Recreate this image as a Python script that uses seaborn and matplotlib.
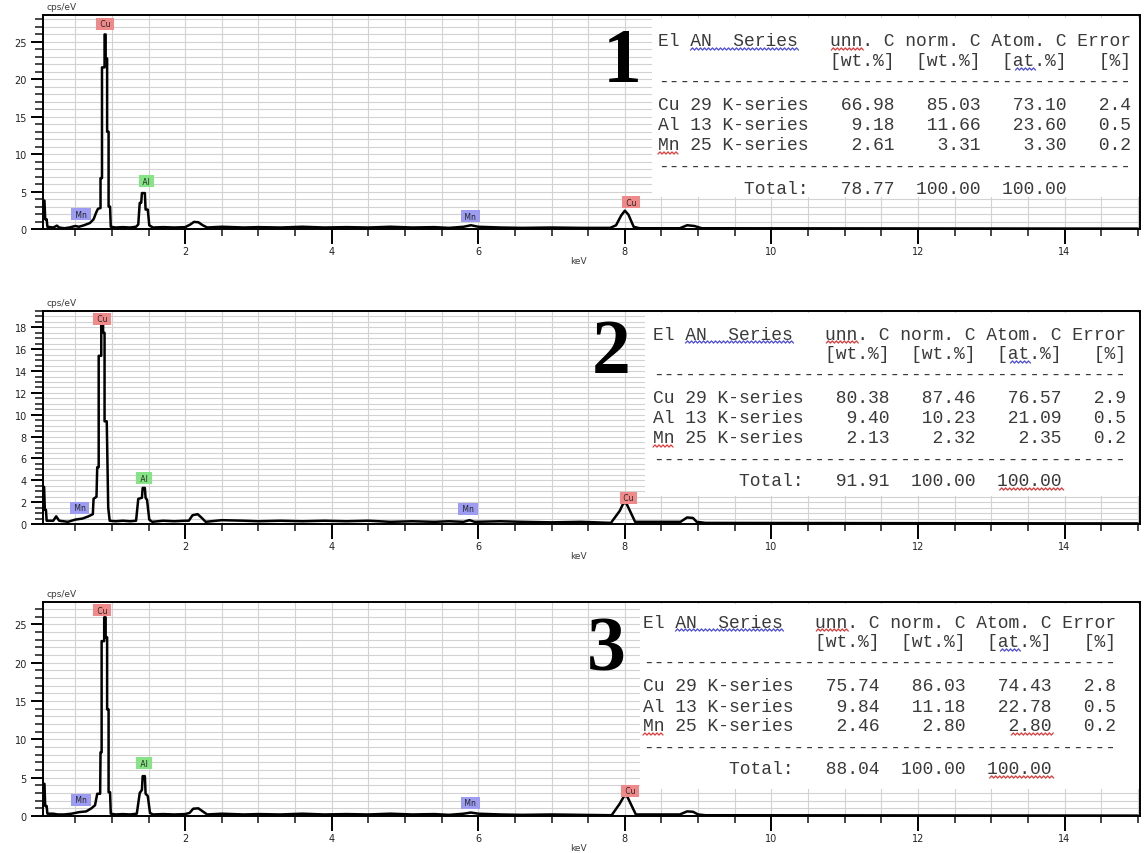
"""EDS spectra of three Cu-Al-Mn samples with their quantification tables."""

import numpy as np
import matplotlib.pyplot as plt
import pandas as pd
import seaborn as sns
from matplotlib.patches import Rectangle
from matplotlib.ticker import MultipleLocator

sns.set_theme(style="white")
plt.rcParams["font.family"] = ["DejaVu Sans"]

W, H = 1145, 854

# ---- spectra (keV, cps/eV) ----
E1 = [0.06, 0.08, 0.09, 0.11, 0.12, 0.2, 0.25, 0.28, 0.35, 0.42, 0.5, 0.55, 0.62, 0.7, 0.75, 0.79, 0.81,
      0.845, 0.845, 0.865, 0.865, 0.9, 0.9, 0.915, 0.915, 0.935, 0.935, 0.955, 0.955, 0.975, 0.985,
      1.05, 1.15, 1.25, 1.33, 1.36, 1.38, 1.40, 1.41, 1.45, 1.46, 1.49, 1.51, 1.56, 1.7, 1.85, 2.0,
      2.07, 2.12, 2.18, 2.24, 2.3, 2.5, 2.8, 3.0, 3.3, 3.6, 3.9, 4.2, 4.5, 4.8, 5.1, 5.4, 5.6, 5.8,
      5.9, 6.0, 6.3, 6.6, 7.0, 7.4, 7.8, 7.88, 7.95, 8.0, 8.05, 8.12, 8.2, 8.75, 8.85, 8.95, 9.05, 15.0]
C1 = [3.8, 3.8, 1.3, 1.3, 0.3, 0.2, 0.45, 0.2, 0.1, 0.2, 0.4, 0.3, 0.5, 0.8, 1.3, 2.3, 2.7,
      2.8, 6.8, 6.8, 21.6, 21.6, 26.0, 26.0, 22.8, 22.8, 13.0, 13.0, 3.0, 3.0, 0.3,
      0.2, 0.25, 0.2, 0.3, 0.6, 3.5, 3.5, 4.8, 4.8, 2.6, 2.6, 0.5, 0.2, 0.25, 0.2, 0.25,
      0.6, 0.95, 0.9, 0.5, 0.2, 0.3, 0.2, 0.25, 0.2, 0.3, 0.2, 0.25, 0.2, 0.3, 0.2, 0.25, 0.15, 0.3,
      0.5, 0.3, 0.2, 0.15, 0.2, 0.15, 0.15, 0.5, 1.8, 2.45, 1.9, 0.3, 0.1, 0.1, 0.5, 0.4, 0.1, 0.05]

E2 = [0.06, 0.075, 0.085, 0.1, 0.11, 0.2, 0.24, 0.28, 0.4, 0.5, 0.6, 0.68, 0.74, 0.75, 0.79,
      0.8, 0.82, 0.82, 0.855, 0.855, 0.88, 0.88, 0.9, 0.9, 0.93, 0.95, 0.97,
      1.05, 1.15, 1.25, 1.33, 1.36, 1.41, 1.42, 1.45, 1.46, 1.48, 1.51, 1.55, 1.7, 1.85, 2.0,
      2.05, 2.1, 2.17, 2.22, 2.28, 2.5, 2.8, 3.0, 3.3, 3.6, 3.9, 4.2, 4.5, 4.8, 5.1, 5.4, 5.6, 5.8,
      5.88, 5.95, 6.3, 6.6, 7.0, 7.4, 7.81, 7.93, 7.98, 8.02, 8.07, 8.14, 8.76, 8.85, 8.93, 8.98, 9.1, 15.0]
C2 = [3.4, 3.4, 1.3, 1.3, 0.3, 0.3, 0.7, 0.3, 0.2, 0.4, 0.5, 0.7, 0.9, 2.3, 2.5,
      5.2, 5.2, 15.4, 15.4, 18.3, 18.3, 17.5, 17.5, 9.4, 9.4, 1.5, 0.3,
      0.25, 0.3, 0.25, 0.3, 2.3, 2.4, 3.3, 3.3, 2.4, 2.2, 0.4, 0.2, 0.3, 0.25, 0.3,
      0.3, 0.8, 0.9, 0.6, 0.2, 0.35, 0.3, 0.25, 0.3, 0.25, 0.3, 0.25, 0.3, 0.2, 0.25, 0.2, 0.25, 0.2,
      0.35, 0.2, 0.25, 0.2, 0.15, 0.2, 0.1, 1.2, 1.9, 1.9, 1.2, 0.2, 0.2, 0.6, 0.55, 0.2, 0.1, 0.05]

E3 = [0.06, 0.08, 0.09, 0.11, 0.12, 0.2, 0.26, 0.35, 0.45, 0.55, 0.65, 0.72, 0.77, 0.8, 0.84,
      0.845, 0.86, 0.86, 0.895, 0.895, 0.915, 0.915, 0.935, 0.935, 0.955, 0.955, 0.975, 0.985,
      1.05, 1.15, 1.25, 1.34, 1.38, 1.41, 1.42, 1.45, 1.46, 1.49, 1.52, 1.56, 1.7, 1.85, 2.0,
      2.06, 2.11, 2.18, 2.24, 2.3, 2.5, 2.8, 3.0, 3.3, 3.6, 3.9, 4.2, 4.5, 4.8, 5.1, 5.4, 5.6, 5.8,
      5.9, 6.0, 6.3, 6.6, 7.0, 7.4, 7.82, 7.93, 7.99, 8.03, 8.08, 8.15, 8.75, 8.85, 8.93, 9.0, 9.1, 15.0]
C3 = [4.2, 4.2, 1.3, 1.3, 0.3, 0.3, 0.2, 0.2, 0.3, 0.5, 0.6, 1.0, 1.4, 2.9, 2.9,
      8.3, 8.3, 22.8, 22.8, 25.9, 25.9, 23.3, 23.3, 13.9, 13.9, 3.1, 3.1, 0.3,
      0.2, 0.25, 0.2, 0.3, 3.0, 3.4, 5.2, 5.2, 2.9, 2.6, 0.4, 0.2, 0.25, 0.2, 0.25,
      0.4, 0.95, 1.0, 0.6, 0.2, 0.3, 0.2, 0.25, 0.2, 0.3, 0.2, 0.25, 0.2, 0.3, 0.2, 0.25, 0.15, 0.3,
      0.45, 0.3, 0.2, 0.15, 0.2, 0.15, 0.1, 1.6, 2.6, 2.6, 1.6, 0.2, 0.2, 0.6, 0.55, 0.2, 0.1, 0.05]

# ---- peak labels ----
PEAK_NAMES = ["Cu", "Al", "Mn", "Mn", "Cu"]
PEAK_X1 = [0.91, 1.47, 0.58, 5.89, 8.09]
PEAK_Y1 = [27.4, 6.4, 2.0, 1.7, 3.6]
PEAK_X2 = [0.87, 1.44, 0.56, 5.86, 8.05]
PEAK_Y2 = [18.8, 4.2, 1.5, 1.4, 2.4]
PEAK_X3 = [0.87, 1.44, 0.58, 5.89, 8.07]
PEAK_Y3 = [26.8, 6.9, 2.1, 1.7, 3.3]

# ---- quantification tables ----
ELEMENTS = ["Cu", "Al", "Mn"]
ATOMIC_NO = [29, 13, 25]
UNN1 = [66.98, 9.18, 2.61]
NORM1 = [85.03, 11.66, 3.31]
ATOM1 = [73.10, 23.60, 3.30]
ERR1 = [2.4, 0.5, 0.2]
UNN2 = [80.38, 9.40, 2.13]
NORM2 = [87.46, 10.23, 2.32]
ATOM2 = [76.57, 21.09, 2.35]
ERR2 = [2.9, 0.5, 0.2]
UNN3 = [75.74, 9.84, 2.46]
NORM3 = [86.03, 11.18, 2.80]
ATOM3 = [74.43, 22.78, 2.80]
ERR3 = [2.8, 0.5, 0.2]
TOTALS = [78.77, 91.91, 88.04]
PANEL_NUMBERS = ["1", "2", "3"]

LABEL_COLORS = {"Cu": "#f08a8a", "Al": "#86e486", "Mn": "#9c9cf2"}
TEXT_COLOR = "#3a3a3a"

panels = [
    dict(E=E1, C=C1, px=PEAK_X1, py=PEAK_Y1, unn=UNN1, norm=NORM1, atom=ATOM1, err=ERR1,
         top=16, bottom=230, ymax=28.6, ymaj=5, ymin=1, tx=658, ty=42,
         box=(652, 19, 1139, 198), num=(622, 63),
         squig=[(0, 3, 12, "b"), (0, 16, 18, "r"), (1, 33, 34, "b"), (5, 0, 1, "r")]),
    dict(E=E2, C=C2, px=PEAK_X2, py=PEAK_Y2, unn=UNN2, norm=NORM2, atom=ATOM2, err=ERR2,
         top=312, bottom=525, ymax=19.5, ymaj=2, ymin=0.5, tx=653, ty=335,
         box=(645, 314, 1139, 497), num=(611, 355),
         squig=[(0, 3, 12, "b"), (0, 16, 18, "r"), (1, 33, 34, "b"), (5, 0, 1, "r"), (7, 32, 37, "r")]),
    dict(E=E3, C=C3, px=PEAK_X3, py=PEAK_Y3, unn=UNN3, norm=NORM3, atom=ATOM3, err=ERR3,
         top=603, bottom=817, ymax=27.9, ymaj=5, ymin=1, tx=643, ty=623,
         box=(640, 605, 1139, 790), num=(606, 652),
         squig=[(0, 3, 12, "b"), (0, 16, 18, "r"), (1, 33, 34, "b"), (5, 0, 1, "r"),
                (5, 34, 37, "r"), (7, 32, 37, "r")]),
]

LINE_OFFSETS = [0, 20, 40, 64, 84, 104, 125, 147]
TABLE_FS = 13
PITCH = TABLE_FS * 0.6 * 100 / 72


def fx(px):
    return px / W


def fy(py):
    return 1 - py / H


fig = plt.figure(figsize=(W / 100, H / 100), dpi=100)
left, right = 43, 1140

for i, p in enumerate(panels):
    ax = fig.add_axes([fx(left), fy(p["bottom"]), (right - left) / W, (p["bottom"] - p["top"]) / H])
    df = pd.DataFrame({"keV": p["E"], "cps": p["C"]})
    sns.lineplot(data=df, x="keV", y="cps", ax=ax, color="black", lw=1.8,
                 estimator=None, sort=False, zorder=2)
    ax.set_xlim(0.06, 15.03)
    ax.set_ylim(0, p["ymax"])
    ax.xaxis.set_major_locator(MultipleLocator(2))
    ax.xaxis.set_minor_locator(MultipleLocator(0.5))
    ax.yaxis.set_major_locator(MultipleLocator(p["ymaj"]))
    ax.yaxis.set_minor_locator(MultipleLocator(p["ymin"]))
    ax.grid(which="both", color="#d2d2d2", lw=0.8)
    ax.set_axisbelow(True)
    for s in ax.spines.values():
        s.set_visible(True)
        s.set_color("black")
        s.set_linewidth(1.4)
    ax.tick_params(axis="x", which="major", direction="out", length=10.5, width=1.4,
                   labelsize=7, pad=2, colors="black", labelcolor="#222222", bottom=True)
    ax.tick_params(axis="x", which="minor", direction="out", length=5, width=1.2, bottom=True)
    ax.tick_params(axis="y", which="major", direction="out", length=8.6, width=1.4,
                   labelsize=7, pad=3, colors="black", labelcolor="#222222", left=True)
    ax.tick_params(axis="y", which="minor", direction="out", length=6, width=1.2, left=True)
    ax.set_xlabel("keV", fontsize=6.5, color=TEXT_COLOR)
    ax.xaxis.set_label_coords(0.488, -0.125)
    ax.set_ylabel("")
    ax.text(0.017, 1.042, "cps/eV", transform=ax.transAxes, ha="center", va="center",
            fontsize=6.5, color=TEXT_COLOR)

    # peak markers
    for name, x, y in zip(PEAK_NAMES, p["px"], p["py"]):
        ax.text(x, y, f" {name} ", ha="center", va="center", fontsize=5.5, color="#222222", zorder=2.1,
                bbox=dict(boxstyle="square,pad=0.2", fc=LABEL_COLORS[name], ec="none"))

    # quantification box
    bx0, by0, bx1, by1 = p["box"]
    ax.add_patch(Rectangle((fx(bx0), fy(by1)), (bx1 - bx0) / W, (by1 - by0) / H,
                           transform=fig.transFigure, fc="white", ec="none", zorder=2.2))
    lines = ["El AN  Series   unn. C norm. C Atom. C Error",
             " " * 16 + "[wt.%]  [wt.%]  [at.%]   [%]",
             "-" * 44]
    for el, an, u, n, a, e in zip(ELEMENTS, ATOMIC_NO, p["unn"], p["norm"], p["atom"], p["err"]):
        lines.append(f"{el} {an} K-series{u:8.2f}{n:8.2f}{a:8.2f}{e:6.1f}")
    lines.append("-" * 44)
    lines.append(" " * 8 + f"Total:{TOTALS[i]:8.2f}{100:8.2f}{100:8.2f}")
    for off, line in zip(LINE_OFFSETS, lines):
        ax.text(fx(p["tx"]), fy(p["ty"] + off), line, transform=fig.transFigure,
                family="Liberation Mono", fontsize=TABLE_FS, color=TEXT_COLOR,
                ha="left", va="center", zorder=3)
    # spell-check squiggles
    for li, c0, c1, col in p["squig"]:
        xa = p["tx"] + c0 * PITCH
        xb = p["tx"] + (c1 + 1) * PITCH
        xs = np.arange(xa, xb, 2.0)
        ys = p["ty"] + LINE_OFFSETS[li] + 8 + 1.1 * (-1) ** np.arange(len(xs))
        ax.plot(fx(xs), fy(ys), transform=fig.transFigure, lw=0.9,
                color="#4a4ae0" if col == "b" else "#e03a3a", zorder=3, clip_on=False)

    nx, ny = p["num"]
    ax.text(fx(nx), fy(ny), PANEL_NUMBERS[i], transform=fig.transFigure, family="Liberation Serif",
            fontweight="bold", fontsize=56, color="black", ha="center", va="center", zorder=3)

fig.savefig("out.png", dpi=100)
